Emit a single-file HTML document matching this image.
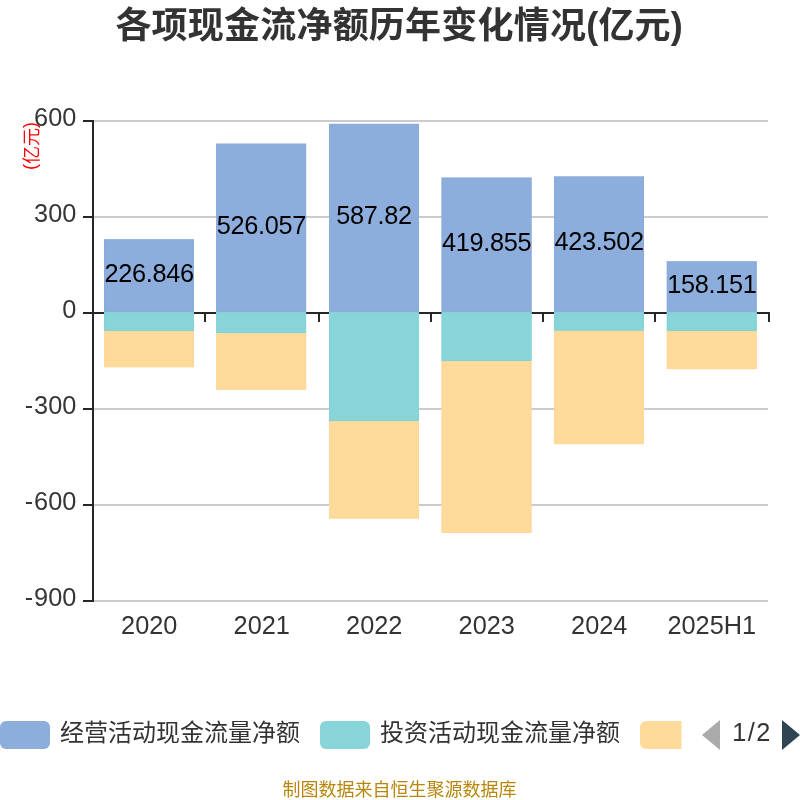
<!DOCTYPE html>
<html lang="zh-CN">
<head>
<meta charset="utf-8">
<title>各项现金流净额历年变化情况(亿元)</title>
<style>
html,body{margin:0;padding:0;background:#fff;}
body{width:800px;height:800px;overflow:hidden;position:relative;font-family:"Liberation Sans", "Noto Sans CJK SC", sans-serif;}
svg{position:absolute;left:0;top:0;display:block;}
text{font-family:"Liberation Sans", "Noto Sans CJK SC", sans-serif;}
.t24{font-size:24px;}
.num{font-size:25.3px;}
</style>
</head>
<body>
<svg width="800" height="800" viewBox="0 0 800 800">
<rect x="0" y="0" width="800" height="800" fill="#fff"/>

<text y="38.1" font-size="36" font-weight="bold" fill="#333"><tspan x="115.4" letter-spacing="0.21">各项现金流净额历年变化情况</tspan><tspan x="586.3" letter-spacing="0">(</tspan><tspan x="598.6">亿元</tspan><tspan x="670.8">)</tspan></text>
<rect x="93" y="120" width="675" height="2" fill="#ccc"/>
<rect x="93" y="216" width="675" height="2" fill="#ccc"/>
<rect x="93" y="408" width="675" height="2" fill="#ccc"/>
<rect x="93" y="504" width="675" height="2" fill="#ccc"/>
<rect x="93" y="600" width="675" height="2" fill="#ccc"/>
<rect x="93" y="312" width="677" height="2" fill="#262626"/>
<rect x="204" y="312" width="2" height="10" fill="#262626"/>
<rect x="318" y="312" width="2" height="10" fill="#262626"/>
<rect x="430" y="312" width="2" height="10" fill="#262626"/>
<rect x="542" y="312" width="2" height="10" fill="#262626"/>
<rect x="654" y="312" width="2" height="10" fill="#262626"/>
<rect x="768" y="312" width="2" height="10" fill="#262626"/>
<rect x="104.0" y="239.40" width="89.9" height="72.60" fill="#8daedc"/>
<rect x="104.50" y="239.90" width="88.9" height="71.60" fill="none" stroke="#89abda" stroke-width="1"/>
<rect x="104.0" y="312.00" width="89.9" height="19.00" fill="#87d5d8"/>
<rect x="104.50" y="312.50" width="88.9" height="18.00" fill="none" stroke="#83d3d6" stroke-width="1"/>
<rect x="104.0" y="331.00" width="89.9" height="36.20" fill="#ffda9b"/>
<rect x="104.50" y="331.50" width="88.9" height="35.20" fill="none" stroke="#ffd897" stroke-width="1"/>
<rect x="216.2" y="143.70" width="89.9" height="168.30" fill="#8daedc"/>
<rect x="216.70" y="144.20" width="88.9" height="167.30" fill="none" stroke="#89abda" stroke-width="1"/>
<rect x="216.2" y="312.00" width="89.9" height="21.30" fill="#87d5d8"/>
<rect x="216.70" y="312.50" width="88.9" height="20.30" fill="none" stroke="#83d3d6" stroke-width="1"/>
<rect x="216.2" y="333.30" width="89.9" height="56.40" fill="#ffda9b"/>
<rect x="216.70" y="333.80" width="88.9" height="55.40" fill="none" stroke="#ffd897" stroke-width="1"/>
<rect x="329.0" y="123.90" width="89.9" height="188.10" fill="#8daedc"/>
<rect x="329.50" y="124.40" width="88.9" height="187.10" fill="none" stroke="#89abda" stroke-width="1"/>
<rect x="329.0" y="312.00" width="89.9" height="109.00" fill="#87d5d8"/>
<rect x="329.50" y="312.50" width="88.9" height="108.00" fill="none" stroke="#83d3d6" stroke-width="1"/>
<rect x="329.0" y="421.00" width="89.9" height="97.60" fill="#ffda9b"/>
<rect x="329.50" y="421.50" width="88.9" height="96.60" fill="none" stroke="#ffd897" stroke-width="1"/>
<rect x="441.6" y="177.65" width="89.9" height="134.35" fill="#8daedc"/>
<rect x="442.10" y="178.15" width="88.9" height="133.35" fill="none" stroke="#89abda" stroke-width="1"/>
<rect x="441.6" y="312.00" width="89.9" height="49.00" fill="#87d5d8"/>
<rect x="442.10" y="312.50" width="88.9" height="48.00" fill="none" stroke="#83d3d6" stroke-width="1"/>
<rect x="441.6" y="361.00" width="89.9" height="171.90" fill="#ffda9b"/>
<rect x="442.10" y="361.50" width="88.9" height="170.90" fill="none" stroke="#ffd897" stroke-width="1"/>
<rect x="554.1" y="176.50" width="89.9" height="135.50" fill="#8daedc"/>
<rect x="554.60" y="177.00" width="88.9" height="134.50" fill="none" stroke="#89abda" stroke-width="1"/>
<rect x="554.1" y="312.00" width="89.9" height="18.90" fill="#87d5d8"/>
<rect x="554.60" y="312.50" width="88.9" height="17.90" fill="none" stroke="#83d3d6" stroke-width="1"/>
<rect x="554.1" y="330.90" width="89.9" height="113.20" fill="#ffda9b"/>
<rect x="554.60" y="331.40" width="88.9" height="112.20" fill="none" stroke="#ffd897" stroke-width="1"/>
<rect x="666.8" y="261.40" width="89.9" height="50.60" fill="#8daedc"/>
<rect x="667.30" y="261.90" width="88.9" height="49.60" fill="none" stroke="#89abda" stroke-width="1"/>
<rect x="666.8" y="312.00" width="89.9" height="19.10" fill="#87d5d8"/>
<rect x="667.30" y="312.50" width="88.9" height="18.10" fill="none" stroke="#83d3d6" stroke-width="1"/>
<rect x="666.8" y="331.10" width="89.9" height="38.00" fill="#ffda9b"/>
<rect x="667.30" y="331.60" width="88.9" height="37.00" fill="none" stroke="#ffd897" stroke-width="1"/>
<rect x="92" y="120" width="2" height="482" fill="#262626"/>
<rect x="83" y="120" width="10" height="2" fill="#262626"/>
<rect x="83" y="216" width="10" height="2" fill="#262626"/>
<rect x="83" y="312" width="10" height="2" fill="#262626"/>
<rect x="83" y="408" width="10" height="2" fill="#262626"/>
<rect x="83" y="504" width="10" height="2" fill="#262626"/>
<rect x="83" y="600" width="10" height="2" fill="#262626"/>
<text class="num" x="76.3" y="125.8" text-anchor="end" fill="#363636">600</text>
<text class="num" x="76.3" y="221.8" text-anchor="end" fill="#363636">300</text>
<text class="num" x="76.3" y="317.8" text-anchor="end" fill="#363636">0</text>
<text class="num" x="76.3" y="413.8" text-anchor="end" fill="#363636"><tspan letter-spacing="1">-</tspan>300</text>
<text class="num" x="76.3" y="509.8" text-anchor="end" fill="#363636"><tspan letter-spacing="1">-</tspan>600</text>
<text class="num" x="76.3" y="605.8" text-anchor="end" fill="#363636"><tspan letter-spacing="1">-</tspan>900</text>
<text class="num" x="149.25" y="633.8" text-anchor="middle" fill="#333">2020</text>
<text class="num" x="261.75" y="633.8" text-anchor="middle" fill="#333">2021</text>
<text class="num" x="374.25" y="633.8" text-anchor="middle" fill="#333">2022</text>
<text class="num" x="486.75" y="633.8" text-anchor="middle" fill="#333">2023</text>
<text class="num" x="599.25" y="633.8" text-anchor="middle" fill="#333">2024</text>
<text class="num" x="711.75" y="633.8" text-anchor="middle" fill="#333">2025H1</text>
<text class="num" x="149.10" y="281.80" text-anchor="middle" letter-spacing="-0.3" fill="#000">226.846</text>
<text class="num" x="261.30" y="233.95" text-anchor="middle" letter-spacing="-0.3" fill="#000">526.057</text>
<text class="num" x="374.10" y="224.05" text-anchor="middle" letter-spacing="-0.3" fill="#000">587.82</text>
<text class="num" x="486.70" y="250.92" text-anchor="middle" letter-spacing="-0.3" fill="#000">419.855</text>
<text class="num" x="599.20" y="250.35" text-anchor="middle" letter-spacing="-0.3" fill="#000">423.502</text>
<text class="num" x="711.90" y="292.80" text-anchor="middle" letter-spacing="-0.3" fill="#000">158.151</text>
<text x="0" y="0" font-size="18" fill="#f00" text-anchor="middle" transform="translate(37.5,146) rotate(-90)"><tspan dy="-2">(</tspan><tspan dy="2">亿元</tspan><tspan dy="-2">)</tspan></text>
<rect x="0" y="721" width="50" height="28" rx="6" ry="6" fill="#8daedc"/>
<text class="t24" x="60" y="741.3" fill="#333">经营活动现金流量净额</text>
<rect x="320" y="721" width="50" height="28" rx="6" ry="6" fill="#87d5d8"/>
<text class="t24" x="380" y="741.3" fill="#333">投资活动现金流量净额</text>
<path d="M646 721H681.5V749H646a6 6 0 0 1 -6 -6V727a6 6 0 0 1 6 -6z" fill="#ffda9b"/>
<path d="M702 735L720 720V750z" fill="#aaa"/>
<text class="num" x="752" y="740.6" text-anchor="middle" letter-spacing="1.4" fill="#333">1/2</text>
<path d="M800 735L782 720V750z" fill="#2f4554"/>
<text x="399.6" y="796.4" font-size="18" text-anchor="middle" fill="#b8860b">制图数据来自恒生聚源数据库</text>
</svg>
</body>
</html>
